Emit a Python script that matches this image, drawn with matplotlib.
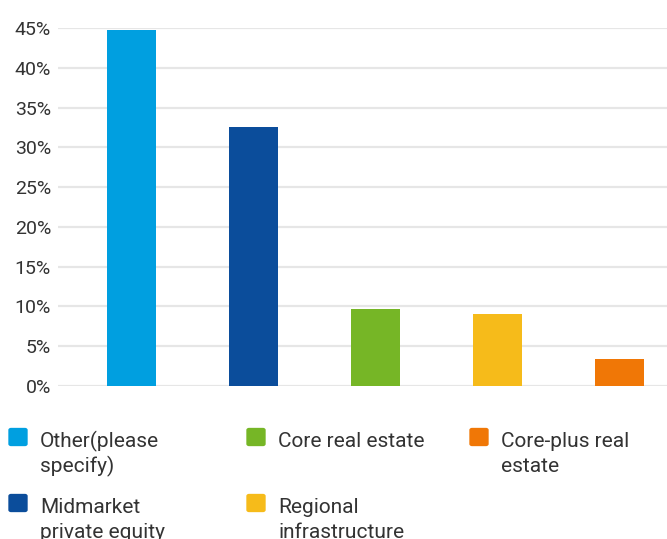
import matplotlib
matplotlib.use('Agg')
import matplotlib.pyplot as plt
from matplotlib.patches import FancyBboxPatch

categories = ['Other(please\nspecify)', 'Midmarket\nprivate equity', 'Core real estate',
              'Regional\ninfrastructure', 'Core-plus real\nestate']
values = [44.8, 32.5, 9.7, 9.1, 3.4]
colors = ['#009fe0', '#0b4d9b', '#76b626', '#f6bb1a', '#f07706']
yticks = [0, 5, 10, 15, 20, 25, 30, 35, 40, 45]

plt.rcParams['font.family'] = ['Roboto', 'DejaVu Sans']
text_color = '#333333'

W, H = 667, 539
fig = plt.figure(figsize=(W / 100, H / 100), dpi=100)
ax = fig.add_axes([58 / W, 1 - 386 / H, (W - 58) / W, (386 - 28) / H])

x = list(range(len(values)))
ax.bar(x, values, width=0.4, color=colors, zorder=3)

ax.set_ylim(0, 45)
ax.set_xlim(-0.6, 4.39)
ax.set_yticks(yticks)
ax.set_yticklabels([f'{t}%' for t in yticks], fontsize=14, color=text_color)
ax.set_xticks([])
ax.tick_params(axis='y', length=0, pad=5)
ax.grid(axis='y', color='#e6e6e6', linewidth=1.6, zorder=0)
for s in ax.spines.values():
    s.set_visible(False)

# legend, column-major like the original
cols_x = [9, 247, 470]
rows_y = [437, 503]
for i, (lab, col) in enumerate(zip(categories, colors)):
    cx = cols_x[i // 2]
    cy = rows_y[i % 2]
    box = FancyBboxPatch(((cx + 2) / W, 1 - (cy + 7) / H), 14 / W, 14 / H,
                         boxstyle='round,pad=0.004', transform=fig.transFigure,
                         facecolor=col, edgecolor='none')
    fig.patches.append(box)
    for k, line in enumerate(lab.split('\n')):
        fig.text((cx + 31) / W, 1 - (cy + 10 + 25 * k) / H, line, fontsize=15,
                 color=text_color, va='baseline', ha='left')

fig.savefig('out.png', dpi=100)
